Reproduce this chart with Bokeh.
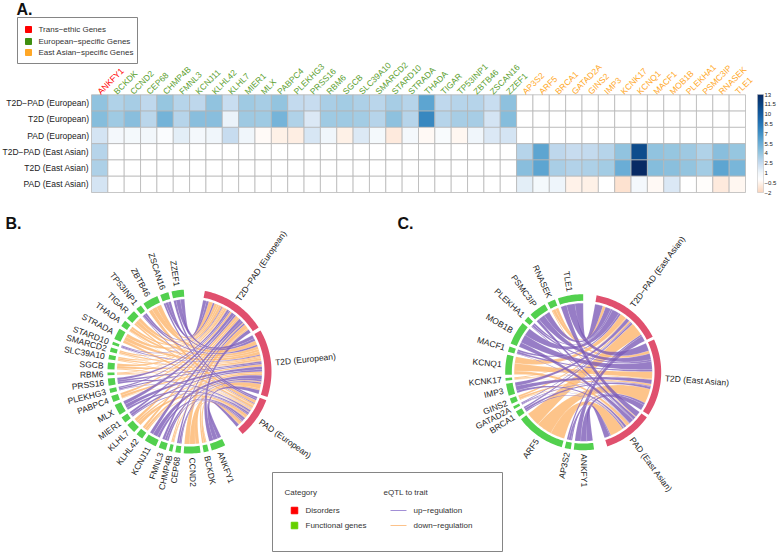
import math
from bokeh.plotting import figure
from bokeh.models import Range1d, ColumnDataSource, LinearColorMapper, ColorBar, FixedTicker, AllLabels
from bokeh.core.properties import value
from bokeh.embed import file_html
from bokeh.resources import INLINE

# ---------- data ----------
nan = float("nan")
traits_eur = ["T2D\u2212PAD (European)", "T2D (European)", "PAD (European)"]
traits_eas = ["T2D\u2212PAD (East Asian)", "T2D (East Asian)", "PAD (East Asian)"]
genes_shared = ["ANKFY1"]
genes_eur = ["BCKDK", "CCND2", "CEP68", "CHMP4B", "FMNL3", "KCNJ11", "KLHL42", "KLHL7", "MIER1", "MLX",
             "PABPC4", "PLEKHG3", "PRSS16", "RBM6", "SGCB", "SLC39A10", "SMARCD2", "STARD10", "STRADA",
             "THADA", "TIGAR", "TP53INP1", "ZBTB46", "ZSCAN16", "ZZEF1"]
genes_eas = ["AP3S2", "ARF5", "BRCA1", "GATAD2A", "GINS2", "IMP3", "KCNK17", "KCNQ1", "MACF1", "MOB1B",
             "PLEKHA1", "PSMC3IP", "RNASEK", "TLE1"]

# heatmap values, column order: shared, European, East Asian
heat_t2dpad_eur = [4.2, 3.2, 3.5, 2.7, 4.0, 3.0, 2.8, 4.2, 2.4, 3.7, 3.5, 4.1, 2.6, 2.5, 3.4, 3.6, 3.3, 2.9,
                   3.5, 3.0, 6.0, 2.7, 3.0, 3.0, 2.4, 4.3]
heat_t2d_eur = [4.6, 3.7, 4.5, 2.9, 5.2, 3.0, 4.5, 4.5, 1.2, 3.8, 3.7, 5.1, 3.2, 1.8, 3.7, 3.7, 3.6, 3.0,
                4.3, 3.0, 7.5, 3.0, 3.5, 3.5, 2.0, 4.6]
heat_pad_eur = [2.0, 0.8, 0.7, 0.9, 0.4, 1.5, 0.8, 1.0, 2.5, 1.0, -0.2, -0.7, -0.8, 1.9, 1.0, -0.7, 1.7, 0.7,
                -1.0, 0.8, -0.3, 0.5, -0.4, 1.0, 1.8, 2.0]
heat_t2dpad_eas = [3.0, 3.0, 6.0, 2.8, 2.5, 2.6, 3.0, 4.2, 11.0, 4.2, 4.0, 3.8, 3.2, 4.5, 4.0]
heat_t2d_eas = [3.3, 4.5, 6.0, 3.4, 3.1, 3.3, 3.6, 5.5, 13.0, 4.6, 4.4, 4.1, 3.6, 6.0, 5.0]
heat_pad_eas = [2.0, 1.5, 0.7, 1.1, -0.6, -0.7, 0.0, -1.4, 0.8, -0.3, 1.8, 0.0, -0.1, -1.0, -0.4]

cb_ticks = [13, 11.5, 10, 8.5, 7, 5.5, 4, 2.5, 1, -0.5, -2]

# chord links (signed: + up-regulation, - down-regulation)
chord_genes_b = ["ANKFY1"] + genes_eur
link_b_t2dpad = [3.5, -1.4, -4.3, 1.5, -1, 2, 2.8, -2, -2.4, 1.8, 3, -1.9, 1.2, 2, -0.8, -1.9, -1.2, -1.2, 0.8, -2.8,
                 -1.8, -2.7, 1.6, -4, 2.2, 3.3]
link_b_t2d = [3.5, -1.5, -4.5, 1.5, -1, 1.8, 3.8, -2, -1.6, 1.8, 3, -2.1, 1.3, 1.5, -0.8, -2, -1.3, -1.3, 0.9, -3, -2.2,
              -2.8, 1.7, -4, 2.3, 3.5]
link_b_pad = [3, -0.7, -3, 0.7, -0.4, 1.4, 2.1, -1, -2.8, 0.9, 1.7, -0.5, 0.5, 1.5, -0.4, -0.9, -0.7, -0.5, 0.3, -2.2,
              -0.5, -1.5, 0.7, -3, 1.5, 1.9]
chord_genes_c = ["ANKFY1"] + genes_eas
link_c_t2dpad = [5, 1.5, -12, 1.5, 0.8, -1.6, 3.2, -0.8, -5.5, 1.7, 6.5, 1.6, 5, -2.6, 7]
link_c_t2d = [5, 2, -13, 2, 0.8, -1.8, 3.8, -0.8, -6.5, 1.8, 7, 1.7, 5.5, -2.6, 7]
link_c_pad = [5, 1, -12, 1, 0.4, -0.6, 2, -0.4, -3, 0.5, 4, 0.7, 2.5, -0.8, 5]

legend_a = ["Trans\u2212ethic Genes", "European\u2212specific Genes", "East Asian\u2212specific Genes"]
legend_cat = ["Disorders", "Functional genes"]
legend_eqtl = ["up\u2212regulation", "down\u2212regulation"]

# ---------- styles ----------
W, H = 777, 556
FONT = value("Liberation Sans")
RED, GREEN, ORANGE = "#ff0000", "#5a9e2e", "#ffa726"
RING_T, RING_G = "#e0506e", "#52d04e"
UP, DOWN = "#7a58b6", "#fcb369"
TXT = "#222222"

p = figure(width=W, height=H, output_backend="svg", toolbar_location=None,
           x_range=Range1d(0, W), y_range=Range1d(H, 0), min_border=0, outline_line_color=None)
p.axis.visible = False
p.grid.visible = False

def txt(x, y, s, size="8.5px", align="left", base="middle", angle=0, color=TXT, style="normal", **kw):
    p.text(x=x, y=y, text=s, text_font=FONT, text_font_size=size, text_align=align,
           text_baseline=base, angle=angle, text_color=color, text_font_style=style, **kw)

# ---------- panel A ----------
HL, HR, HT, HB = 91.0, 745.0, 94.3, 192.0
genes_all = genes_shared + genes_eur + genes_eas
n, m = len(genes_all), 6
cw, ch = (HR - HL) / n, (HB - HT) / m
p.extra_x_ranges["heat"] = Range1d(-HL / cw, (W - HL) / cw)
p.extra_y_ranges["heat"] = Range1d((H - HT) / ch, -HT / ch)

ne = len(genes_eur)
nx = len(genes_eas)
rows = [
    heat_t2dpad_eur + [nan] * nx,
    heat_t2d_eur + [nan] * nx,
    heat_pad_eur + [nan] * nx,
    heat_t2dpad_eas[:1] + [nan] * ne + heat_t2dpad_eas[1:],
    heat_t2d_eas[:1] + [nan] * ne + heat_t2d_eas[1:],
    heat_pad_eas[:1] + [nan] * ne + heat_pad_eas[1:],
]
row_names = traits_eur + traits_eas

anchors = [(-2, (251, 213, 188)), (-0.5, (255, 245, 238)), (0, (255, 255, 255)), (1, (240, 246, 251)),
           (2.5, (198, 219, 239)), (4, (150, 198, 224)), (5.5, (107, 174, 214)), (7, (66, 146, 198)),
           (8.5, (38, 118, 182)), (10, (20, 92, 160)), (11.5, (9, 68, 130)), (13, (8, 42, 100))]
palette = []
for k in range(256):
    v = -2 + 15 * k / 255
    for (v0, c0), (v1, c1) in zip(anchors, anchors[1:]):
        if v0 <= v <= v1:
            t = (v - v0) / (v1 - v0)
            palette.append("#%02x%02x%02x" % tuple(round(a + (b - a) * t) for a, b in zip(c0, c1)))
            break
mapper = LinearColorMapper(palette=palette, low=-2, high=13, nan_color="#ffffff")

xs, ys, vs = [], [], []
for r, row in enumerate(rows):
    for c, val in enumerate(row):
        xs.append(c + 0.5); ys.append(r + 0.5); vs.append(val)
p.rect(x="x", y="y", width=1, height=1, source=ColumnDataSource(dict(x=xs, y=ys, v=vs)),
       fill_color={"field": "v", "transform": mapper}, line_color="#b4b4b4", line_width=0.75,
       x_range_name="heat", y_range_name="heat")

for r, name in enumerate(row_names):
    txt([HL - 2.5], [HT + ch * (r + 0.5)], [name], align="right")
gene_cols = [RED] * len(genes_shared) + [GREEN] * ne + [ORANGE] * nx
for c, (g, col) in enumerate(zip(genes_all, gene_cols)):
    txt([c + 0.45], [-0.12], [g], angle=math.pi / 4, color=col, x_range_name="heat", y_range_name="heat")

cb = ColorBar(color_mapper=mapper, ticker=FixedTicker(ticks=cb_ticks), width=6, height=98,
              padding=0, margin=0, location=(757, H - HB), bar_line_color="#bbbbbb", bar_line_width=0.5,
              major_tick_line_color=None, minor_tick_line_color=None, major_label_policy=AllLabels(),
              major_label_text_font="Liberation Sans", major_label_text_font_size="6px",
              major_label_text_color=TXT, label_standoff=1, background_fill_alpha=0, border_line_color=None,
              major_label_overrides={-0.5: "\u22120.5", -2: "\u22122"})
p.add_layout(cb, "center")

# legend A
p.quad(left=[17], right=[137], top=[17], bottom=[63], fill_color="white", line_color="#777777", line_width=0.9)
p.scatter(x=[28, 28, 28], y=[29, 41, 52], size=6, marker="square", color=[RED, "#3f8f10", ORANGE])
txt([38, 38, 38], [29, 41, 52], legend_a, size="8px", color="#333333")

txt([16], [9], ["A."], size="16px", style="bold", color="#111111")
txt([5], [223], ["B."], size="16px", style="bold", color="#111111")
txt([397], [223], ["C."], size="16px", style="bold", color="#111111")

# ---------- chord ----------
def pt(theta, r):
    a = math.radians(theta)
    return r * math.sin(a), r * math.cos(a)

def arc(t0, t1, r):
    k = max(2, int(abs(t1 - t0) / 1.5) + 2)
    return [pt(t0 + (t1 - t0) * i / (k - 1), r) for i in range(k)]

def bez(a, b):
    out = []
    for i in range(1, 24):
        t = i / 24
        out.append(((1 - t) ** 2 * a[0] + t ** 2 * b[0], (1 - t) ** 2 * a[1] + t ** 2 * b[1]))
    return out

def chord(name, cx, cy, R, trait_names, gene_names, links, tspan, tgap, gspan, ggap):
    """links: three signed lists (one per trait), one entry per gene."""
    p.extra_x_ranges[name] = Range1d(-cx / R, (W - cx) / R)
    p.extra_y_ranges[name] = Range1d(-(H - cy) / R, cy / R)
    kw = dict(x_range_name=name, y_range_name=name)
    tsum = [sum(abs(v) for v in l) for l in links]
    gsum = [sum(abs(l[g]) for l in links) for g in range(len(gene_names))]
    ks_t = (tspan[1] - tspan[0] - tgap * (len(links) - 1)) / sum(tsum)
    ks_g = (gspan[1] - gspan[0] - ggap * (len(gene_names) - 1)) / sum(gsum)
    RI, RO, RL = 0.915, 1.0, 0.885
    # sector starts
    tstart, a = [], tspan[0]
    for s in tsum:
        tstart.append(a); a += s * ks_t + tgap
    gstart, a = [], gspan[0]
    for s in gsum:
        gstart.append(a); a += s * ks_g + ggap
    # link ends
    t_pos = {}
    for ti, l in enumerate(links):
        a = tstart[ti]
        for g in reversed(range(len(gene_names))):
            t_pos[(ti, g)] = (a, a + abs(l[g]) * ks_t); a += abs(l[g]) * ks_t
    g_pos = {}
    for g in range(len(gene_names)):
        a = gstart[g]
        for ti in reversed(range(len(links))):
            w = abs(links[ti][g]) * ks_g
            g_pos[(ti, g)] = (a, a + w); a += w
    px, py, col = [], [], []
    for (ti, g), (a0, a1) in t_pos.items():
        b0, b1 = g_pos[(ti, g)]
        poly = arc(a0, a1, RL)
        poly += bez(pt(a1, RL), pt(b0, RL))
        poly += arc(b0, b1, RL)
        poly += bez(pt(b1, RL), pt(a0, RL))
        px.append([q[0] for q in poly]); py.append([q[1] for q in poly])
        col.append(UP if links[ti][g] > 0 else DOWN)
    # orange first, purple above
    order = sorted(range(len(col)), key=lambda i: col[i] == UP)
    p.patches([px[i] for i in order], [py[i] for i in order], fill_color=[col[i] for i in order],
              fill_alpha=0.78, line_color="white", line_alpha=0.35, line_width=0.3, **kw)
    # rings
    rx, ry, rc = [], [], []
    for st, s, c, ks in [(tstart[i], tsum[i], RING_T, ks_t) for i in range(len(tsum))] + \
                        [(gstart[i], gsum[i], RING_G, ks_g) for i in range(len(gsum))]:
        poly = arc(st, st + s * ks, RO) + arc(st + s * ks, st, RI)
        rx.append([q[0] for q in poly]); ry.append([q[1] for q in poly]); rc.append(c)
    p.patches(rx, ry, fill_color=rc, line_color=None, **kw)
    # labels
    RT = 1.05
    for st, s, nm, ks in [(tstart[i], tsum[i], trait_names[i], ks_t) for i in range(len(tsum))] + \
                         [(gstart[i], gsum[i], gene_names[i], ks_g) for i in range(len(gsum))]:
        mid = st + s * ks / 2
        x, y = pt(mid, RT)
        if mid < 180:
            txt([x], [y], [nm], align="left", angle=math.radians(90 - mid), **kw)
        else:
            txt([x], [y], [nm], align="right", angle=math.radians(270 - mid), **kw)

chord("B", 189.0, 371.0, 82.0, traits_eur, chord_genes_b, [link_b_t2dpad, link_b_t2d, link_b_pad],
      (10.8, 139.6), 2.5, (154.2, 356.0), 2.23)
chord("C", 582.7, 371.7, 78.0, traits_eas, chord_genes_c, [link_c_t2dpad, link_c_t2d, link_c_pad],
      (9.9, 162.0), 2.2, (172.0, 360.0), 2.29)

# ---------- bottom legend ----------
p.quad(left=[272], right=[502], top=[472], bottom=[551], fill_color="white", line_color="#777777", line_width=0.9)
txt([284], [492], ["Category"], size="8px", color="#333333")
txt([383], [492], ["eQTL to trait"], size="8px", color="#333333")
p.scatter(x=[294, 294], y=[510, 525], size=6.5, marker="square", color=["#ff0000", "#66d000"])
txt([305, 305], [510, 525], legend_cat, size="8px", color="#333333")
p.segment(x0=[390, 390], x1=[406, 406], y0=[510, 525], y1=[510, 525], line_color=["#a28fd6", "#fcc28a"], line_width=1)
txt([413, 413], [510, 525], legend_eqtl, size="8px", color="#333333")

open("out.html", "w").write(file_html(p, INLINE))
